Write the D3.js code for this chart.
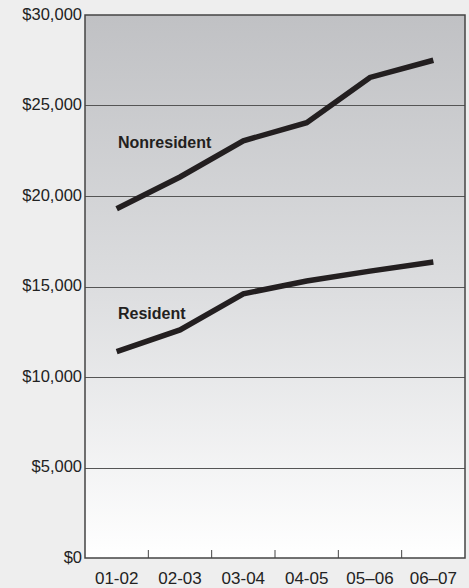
<!DOCTYPE html>
<html>
<head>
<meta charset="utf-8">
<script src="https://cdn.jsdelivr.net/npm/d3@7"></script>
<style>
  html, body { margin: 0; padding: 0; background: #eeeeee; }
  svg { display: block; }
  .tick text { font-family: "Liberation Sans Narrow", "Arial Narrow", "Liberation Sans", sans-serif; }
</style>
</head>
<body>
<div id="chart"></div>
<script>
// school years on the x axis
const years = ['01-02', '02-03', '03-04', '04-05', '05\u201306', '06\u201307'];
const yTicks = [0, 5000, 10000, 15000, 20000, 25000, 30000];

// tuition
const resident = [11400, 12600, 14600, 15300, 15850, 16350];
const nonresident = [19300, 21050, 23050, 24050, 26550, 27500];

const width = 469, height = 588;
const margin = {top: 15, right: 4, bottom: 30, left: 85};

const svg = d3.select('#chart').append('svg')
  .attr('width', width)
  .attr('height', height);

const x = d3.scaleBand()
  .domain(years)
  .range([margin.left, width - margin.right]);

const y = d3.scaleLinear()
  .domain([0, 30000])
  .range([height - margin.bottom, margin.top]);

//background gradient, dark at the top and fading out to white
const grad = svg.append('defs').append('linearGradient')
  .attr('id', 'bg')
  .attr('x1', 0).attr('y1', 0).attr('x2', 0).attr('y2', 1);
grad.append('stop').attr('offset', '0%').attr('stop-color', '#c0c1c4');
grad.append('stop').attr('offset', '50%').attr('stop-color', '#dcdddf');
grad.append('stop').attr('offset', '100%').attr('stop-color', '#ffffff');

svg.append('rect')
  .attr('x', margin.left)
  .attr('y', margin.top)
  .attr('width', width - margin.right - margin.left)
  .attr('height', height - margin.bottom - margin.top)
  .attr('fill', 'url(#bg)');

//grid lines
svg.append('g')
  .selectAll('line')
  .data(yTicks.slice(1, -1))
  .join('line')
  .attr('x1', margin.left)
  .attr('x2', width - margin.right)
  .attr('y1', d => Math.round(y(d)) + 0.5)
  .attr('y2', d => Math.round(y(d)) + 0.5)
  .attr('stroke', '#555')
  .attr('stroke-width', 1);

//frame
svg.append('rect')
  .attr('x', margin.left)
  .attr('y', margin.top)
  .attr('width', width - margin.right - margin.left)
  .attr('height', height - margin.bottom - margin.top)
  .attr('fill', 'none')
  .attr('stroke', '#444')
  .attr('stroke-width', 1.5);

//y axis labels
const yAxis = svg.append('g')
  .attr('transform', `translate(${margin.left},0)`)
  .call(d3.axisLeft(y).tickValues(yTicks).tickSize(0).tickPadding(3)
    .tickFormat(d => '$' + d3.format(',')(d)));
yAxis.select('.domain').remove();
yAxis.selectAll('text')
  .attr('font-size', 16.5)
  .attr('fill', '#222')
  .attr('dy', '0.27em');

//x axis: ticks sit between the years, pointing up into the plot
const boundaries = years.slice(1).map(d => x(d));
svg.append('g')
  .selectAll('line')
  .data(boundaries)
  .join('line')
  .attr('x1', d => d)
  .attr('x2', d => d)
  .attr('y1', y(0))
  .attr('y2', y(0) - 8)
  .attr('stroke', '#444')
  .attr('stroke-width', 1);

const xAxis = svg.append('g')
  .attr('transform', `translate(0,${y(0)})`)
  .call(d3.axisBottom(x).tickSize(0).tickPadding(14));
xAxis.select('.domain').remove();
xAxis.selectAll('text')
  .attr('font-size', 17)
  .attr('fill', '#222');

//the two lines
const line = d3.line()
  .x((d, i) => x(years[i]) + x.bandwidth() / 2)
  .y(d => y(d));

[nonresident, resident].forEach(series => {
  svg.append('path')
    .datum(series)
    .attr('d', line)
    .attr('fill', 'none')
    .attr('stroke', '#231f20')
    .attr('stroke-width', 5.5)
    .attr('stroke-linejoin', 'miter');
});

//series labels
const labels = [
  {text: 'Nonresident', value: 22650},
  {text: 'Resident', value: 13200}
];
svg.append('g')
  .selectAll('text')
  .data(labels)
  .join('text')
  .attr('x', margin.left + 33)
  .attr('y', d => y(d.value))
  .attr('font-family', '"Liberation Sans Narrow", "Arial Narrow", "Liberation Sans", sans-serif')
  .attr('font-weight', 'bold')
  .attr('font-size', 16)
  .attr('fill', '#231f20')
  .text(d => d.text);
</script>
</body>
</html>
